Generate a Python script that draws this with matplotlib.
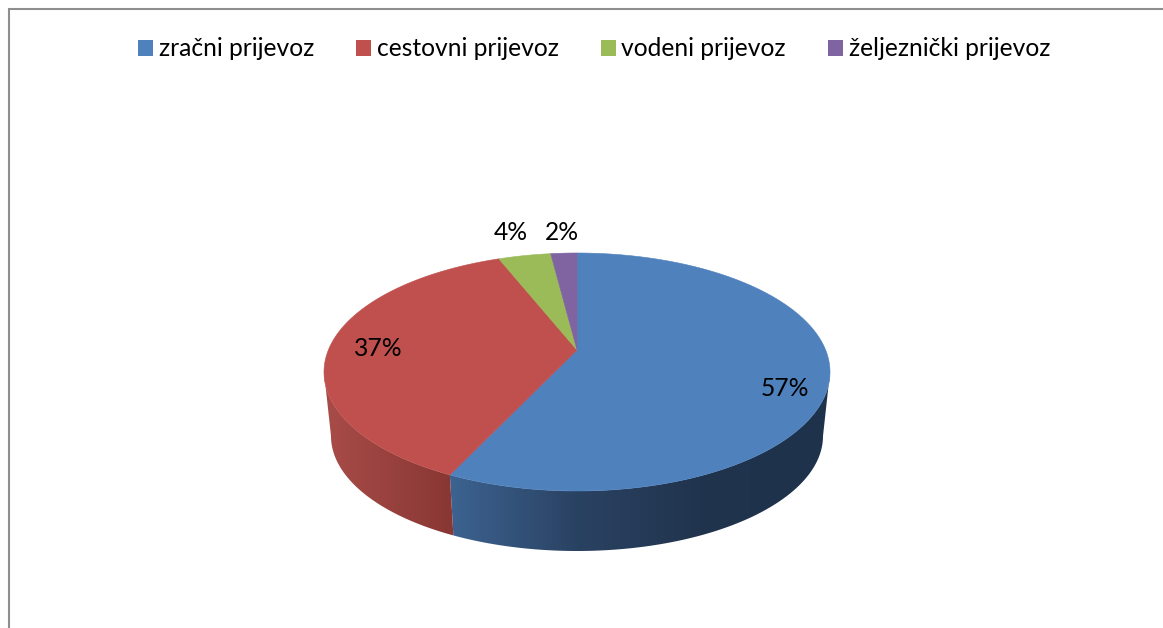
import numpy as np
import matplotlib
matplotlib.use("Agg")
import matplotlib.pyplot as plt
from matplotlib.colors import to_rgb
from matplotlib.patches import Patch, Polygon

categories = ["zračni prijevoz", "cestovni prijevoz", "vodeni prijevoz", "željeznički prijevoz"]
values = [57, 37, 4, 2]
colors = ["#4F81BD", "#C0504D", "#9BBB59", "#8064A2"]
# side shading: stops (pixel x, colour) per slice
side_x = [[453, 577, 700, 800], [325, 450], [325, 450], [325, 450]]
side_c = [["#3C6290", "#2A4262", "#21344E", "#1E324B"],
          ["#A84C48", "#893734"], ["#7F9A49", "#7F9A49"], ["#69527F", "#69527F"]]
label_xy = [(784.5, 389), (378.5, 349), (510.5, 233), (561.5, 233)]

plt.rcParams["font.family"] = ["Lato", "DejaVu Sans"]
FS = 17.7

fig = plt.figure(figsize=(11.63, 6.28), dpi=100)
ax = fig.add_axes([0, 0, 1, 1])
ax.set_xlim(0, 1163)
ax.set_ylim(628, 0)
ax.axis("off")

# chart frame
ax.plot([8.5, 8.5, 1163], [628, 8.5, 8.5], color="#8E8E8E", lw=1.5, solid_joinstyle="miter")

# perspective of the disc: top and bottom ellipse, apex offset from the ellipse centre
A = 22 / 119
TOP = (577, 372, 253, 119)
BOT = (577, 436, 246, 115)


def project(theta, ell):
    """theta: clockwise from 12 o'clock, radians; unit disc to ellipse in perspective."""
    u, v = np.sin(theta), np.cos(theta)
    d = 1 + A * v
    X = u * np.sqrt(1 - A ** 2) / d
    Y = (v + A) / d
    return ell[0] + ell[2] * X, ell[1] - ell[3] * Y


fr = np.cumsum([0] + values) / sum(values) * 2 * np.pi
front = np.arccos(-A)  # where the outline turns from back to front

# side walls: horizontal gradient image clipped to each slice's visible wall
for i in range(len(values)):
    lo, hi = max(fr[i], front), min(fr[i + 1], 2 * np.pi - front)
    if hi <= lo:
        continue
    th = np.linspace(lo, hi, 300)
    xt, yt = project(th, TOP)
    xb, yb = project(th, BOT)
    stops = np.array([to_rgb(c) for c in side_c[i]])
    gx = np.arange(300, 860)
    img = np.stack([np.interp(gx, side_x[i], stops[:, k]) for k in range(3)], axis=1)[None, :, :]
    im = ax.imshow(img, extent=(300, 860, 570, 340), aspect="auto", interpolation="bilinear", zorder=1)
    wall = Polygon(np.column_stack([np.r_[xt, xb[::-1]], np.r_[yt, yb[::-1]]]), closed=True,
                   transform=ax.transData, facecolor="none", edgecolor="none")
    ax.add_patch(wall)
    im.set_clip_path(wall)
ax.set_xlim(0, 1163)
ax.set_ylim(628, 0)

# top surface
for i, c in enumerate(colors):
    th = np.linspace(fr[i], fr[i + 1], max(4, int((fr[i + 1] - fr[i]) * 180)))
    xt, yt = project(th, TOP)
    cx, cy = TOP[0], TOP[1] - TOP[3] * A
    pts = np.column_stack([np.r_[cx, xt], np.r_[cy, yt]])
    ax.add_patch(Polygon(pts, closed=True, facecolor=c, edgecolor=c, lw=0.4, zorder=2))

# percentage labels
for v, (x, y) in zip(values, label_xy):
    ax.text(x, y, f"{v}%", ha="center", va="center", fontsize=FS, color="black", zorder=3)

handles = [Patch(facecolor=c, edgecolor="none", label=n) for c, n in zip(colors, categories)]
ax.legend(handles=handles, ncol=4, loc="center", bbox_to_anchor=(594 / 1163, 1 - 49 / 628),
          bbox_transform=fig.transFigure, frameon=False, fontsize=FS, borderpad=0, borderaxespad=0,
          handlelength=0.61, handleheight=0.61, handletextpad=0.24, columnspacing=1.7)

fig.savefig("out.png", dpi=100)
